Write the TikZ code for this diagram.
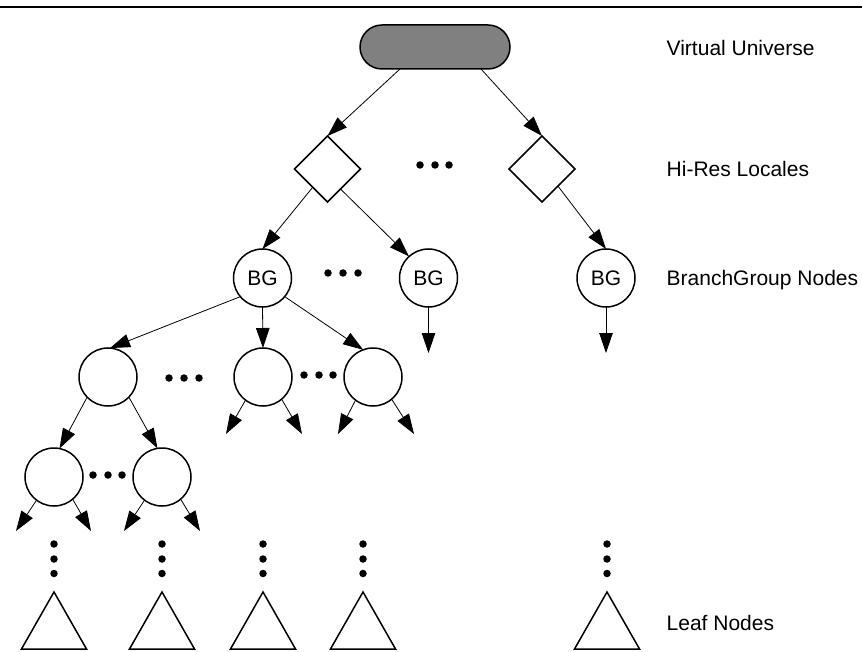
\documentclass[tikz,border=0pt]{standalone}
\usepackage{fontspec}
\setmainfont{Liberation Sans}
\usetikzlibrary{shapes.geometric,shapes.misc,arrows.meta}
\tikzset{
  ln/.style={line width=1.5pt,draw=black},
  circ/.style={ln,circle,minimum size=58pt,inner sep=0pt,outer sep=0pt,fill=white},
  dia/.style={ln,diamond,minimum width=66pt,minimum height=66pt,inner sep=0pt,outer sep=0pt,fill=white},
  pill/.style={ln,rounded rectangle,fill=black!50,minimum width=150pt,minimum height=44pt,inner sep=0pt,outer sep=0pt},
  tri/.style={ln,line join=miter,fill=white},
  arr/.style={line width=0.8pt,-{Triangle[length=20pt,width=13.5pt]}},
  lab/.style={anchor=base west,font=\fontsize{21pt}{24pt}\selectfont,inner sep=0pt},
  bg/.style={font=\fontsize{21pt}{24pt}\selectfont},
  dotn/.style={circle,fill=black,minimum size=7.5pt,inner sep=0pt,outer sep=0pt},
}
\begin{document}
\begin{tikzpicture}[x=1pt,y=-1pt]
\useasboundingbox (0,0) rectangle (862,652);
\coordinate (rl) at (0,7); \coordinate (rr) at (862,7);
\draw[line width=1.1pt] (rl) -- (rr);
\node[pill] (u) at (435,47) {};
\node[dia] (d1) at (327.5,169) {};
\node[dia] (d2) at (542,169) {};
\node[circ,bg] (b1) at (262.5,278) {BG};
\node[circ,bg] (b2) at (428.5,278) {BG};
\node[circ,bg] (b3) at (606,278) {BG};
\node[circ] (c1) at (108,377) {};
\node[circ] (c2) at (263,377) {};
\node[circ] (c3) at (373,377) {};
\node[circ] (e1) at (54,477) {};
\node[circ] (e2) at (162,477) {};
% named free ends
\coordinate (f1) at (428.5,353);
\coordinate (f2) at (606,353);
\coordinate (g1) at (226,434); \coordinate (g2) at (302,434);
\coordinate (g3) at (338,434); \coordinate (g4) at (414,434);
\coordinate (h1) at (16,531); \coordinate (h2) at (91,531);
\coordinate (h3) at (124,531); \coordinate (h4) at (200,531);
% connectors
\draw[arr] ([xshift=-35pt]u.south) -- (d1.north);
\draw[arr] ([xshift=46pt]u.south) -- (d2.north);
\draw[arr] (d1.231) -- (b1.north);
\draw[arr] (d1.-57) -- (b2.132);
\draw[arr] (d2.-47) -- (b3.north);
\draw[arr] (b1.220) -- (c1.86);
\draw[arr] (b1.south) -- (c2.north);
\draw[arr] (b1.-40) -- (c3.110);
\draw[arr] (b2.south) -- (f1);
\draw[arr] (b3.south) -- (f2);
\draw[arr] (c1.224) -- (e1.79);
\draw[arr] (c1.-44) -- (e2.99);
\draw[arr] (c2.233) -- (g1);
\draw[arr] (c2.-50) -- (g2);
\draw[arr] (c3.233) -- (g3);
\draw[arr] (c3.-50) -- (g4);
\draw[arr] (e1.233) -- (h1);
\draw[arr] (e1.-50) -- (h2);
\draw[arr] (e2.233) -- (h3);
\draw[arr] (e2.-50) -- (h4);
% dots
\foreach \x/\y in {420/165,435/165,449/165,328/273,343/273,358/273,169/378,184/378,199/378,304/375,319/375,333/375,93/475,108/475,122/475}
  \node[dotn] at (\x,\y) {};
\foreach \x in {54,162,263,363,607}
  \foreach \y in {544,559,573.5}
    \node[dotn] at (\x,\y) {};
% leaves
\foreach \x in {54,162,263,363,607}
  \draw[tri] (\x,592) -- (\x+32.5,649) -- (\x-32.5,649) -- cycle;
% labels
\node[lab] (l1) at (666.5,56) {Virtual Universe};
\node[lab] (l2) at (666.5,177) {Hi-Res Locales};
\node[lab] (l3) at (666.5,286) {BranchGroup Nodes};
\node[lab] (l4) at (666.5,630) {Leaf Nodes};
\end{tikzpicture}
\end{document}
